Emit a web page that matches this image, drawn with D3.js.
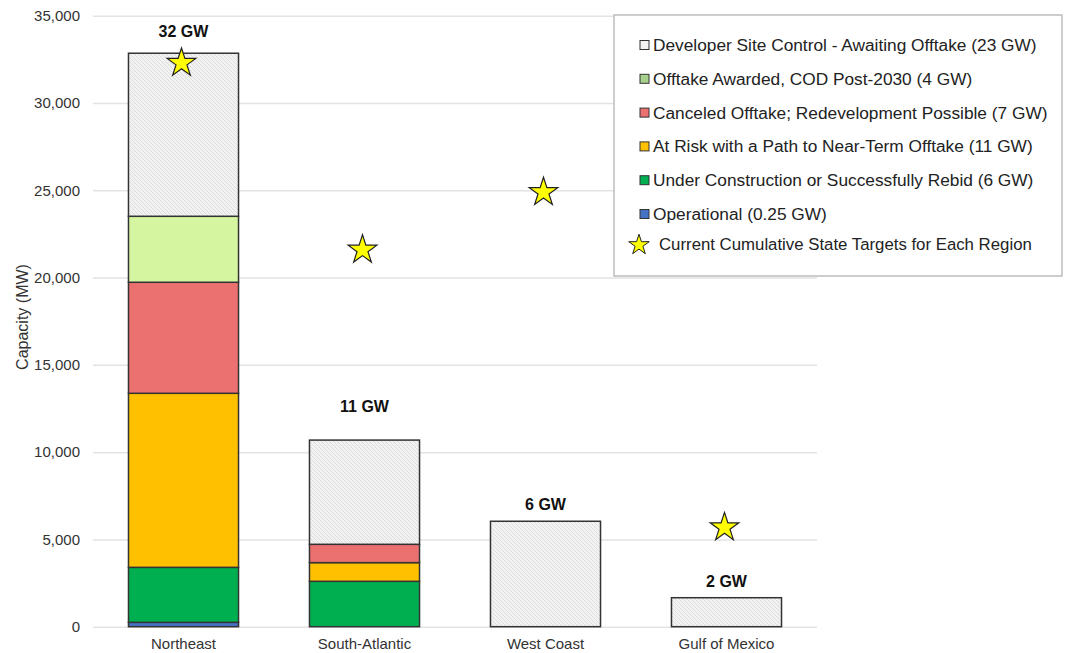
<!DOCTYPE html>
<html>
<head>
<meta charset="utf-8">
<script src="https://cdn.jsdelivr.net/npm/d3@7"></script>
<style>
  body { margin: 0; background: #fff; }
  svg { font-family: "Liberation Sans", Arial, sans-serif; }
</style>
</head>
<body>
<svg width="1066" height="653"></svg>
<script>
// regions on the x axis
const regions = ["Northeast", "South-Atlantic", "West Coast", "Gulf of Mexico"];

// capacity (MW) per status, stacked bottom to top
const operational = [250, 0, 0, 0];
const underConstruction = [3150, 2600, 0, 0];
const atRisk = [9970, 1070, 0, 0];
const canceled = [6360, 1050, 0, 0];
const offtakeAwarded = [3780, 0, 0, 0];
const siteControl = [9340, 5970, 6040, 1660];

const stateTargets = [32400, 21700, 25000, 5800];
const totalLabels = ["32 GW", "11 GW", "6 GW", "2 GW"];
const labelAt = [33800, 12300, 6700, 2300];

const seriesKeys = ["op", "uc", "ar", "co", "oa", "ds"];
const seriesNames = {
    op: "Operational (0.25 GW)",
    uc: "Under Construction or Successfully Rebid (6 GW)",
    ar: "At Risk with a Path to Near-Term Offtake (11 GW)",
    co: "Canceled Offtake; Redevelopment Possible (7 GW)",
    oa: "Offtake Awarded, COD Post-2030 (4 GW)",
    ds: "Developer Site Control - Awaiting Offtake (23 GW)"
};
const yTicks = [0, 5000, 10000, 15000, 20000, 25000, 30000, 35000];

let colors = { op: "#4472c4", uc: "#00b050", ar: "#ffc000", co: "#eb7070", oa: "#d5f5a0", ds: "url(#hatch)" };

let rows = regions.map((r, i) => ({
    region: r, op: operational[i], uc: underConstruction[i], ar: atRisk[i],
    co: canceled[i], oa: offtakeAwarded[i], ds: siteControl[i]
}));

let svg = d3.select("svg");
svg.append("rect").attr("width", 1066).attr("height", 653).attr("fill", "#fff");

// hatch pattern for the site-control segments
let pat = svg.append("defs").append("pattern")
    .attr("id", "hatch")
    .attr("patternUnits", "userSpaceOnUse")
    .attr("width", 4).attr("height", 4);
pat.append("rect").attr("width", 4).attr("height", 4).attr("fill", "#f2f2f2");
pat.append("path")
    .attr("d", "M0,0 L4,4 M-1,3 L1,5 M3,-1 L5,1")
    .attr("stroke", "#dadada").attr("stroke-width", 0.9);

let xScale = d3.scaleBand()
    .domain(regions)
    .range([93, 817])
    .paddingInner(0.392)
    .paddingOuter(0.196);
let yScale = d3.scaleLinear()
    .domain([0, 35000])
    .range([626.7, 15.7]);

// gridlines + y labels
let yAxis = svg.append("g")
    .attr("transform", "translate(93,0)")
    .call(d3.axisLeft(yScale).tickValues(yTicks).tickFormat(d3.format(","))
        .tickSize(-724).tickPadding(13));
yAxis.select(".domain").remove();
yAxis.selectAll("line").attr("stroke", "#e3e3e3").attr("stroke-width", 1.5);
yAxis.selectAll("text").attr("font-size", 15).attr("fill", "#333")
    .attr("font-family", "Liberation Sans, Arial, sans-serif");

let xAxis = svg.append("g")
    .attr("transform", "translate(0,626.7)")
    .call(d3.axisBottom(xScale).tickSize(0).tickPadding(12));
xAxis.select(".domain").remove();
xAxis.selectAll("text").attr("font-size", 15).attr("fill", "#333")
    .attr("font-family", "Liberation Sans, Arial, sans-serif");

svg.append("text")
    .attr("transform", "translate(28,317) rotate(-90)")
    .attr("text-anchor", "middle")
    .attr("font-size", 16)
    .attr("fill", "#333")
    .text("Capacity (MW)");

// stacked bars
let stacked = d3.stack().keys(seriesKeys)(rows);
svg.append("g").selectAll("g")
    .data(stacked)
    .enter()
    .append("g")
    .attr("fill", d => colors[d.key])
    .selectAll("rect")
    .data(d => d.filter(s => s[1] - s[0] > 0))
    .enter()
    .append("rect")
    .attr("x", d => xScale(d.data.region))
    .attr("width", xScale.bandwidth())
    .attr("y", d => yScale(d[1]))
    .attr("height", d => yScale(d[0]) - yScale(d[1]))
    .attr("stroke", "#333")
    .attr("stroke-width", 1.5);

// total labels
svg.append("g").selectAll("text")
    .data(regions)
    .enter()
    .append("text")
    .attr("x", d => xScale(d) + xScale.bandwidth() / 2)
    .attr("y", (d, i) => yScale(labelAt[i]))
    .attr("text-anchor", "middle")
    .attr("font-size", 16)
    .attr("font-weight", "bold")
    .attr("fill", "#111")
    .text((d, i) => totalLabels[i]);

// state targets
let star = d3.symbol().type(d3.symbolStar).size(255);
svg.append("g").selectAll("path")
    .data(regions)
    .enter()
    .append("path")
    .attr("d", star)
    .attr("transform", (d, i) => `translate(${xScale(d) + xScale.bandwidth() / 2 - 2},${yScale(stateTargets[i]) + 2})`)
    .attr("fill", "#ffff00")
    .attr("stroke", "#222")
    .attr("stroke-width", 1.2);

// legend
let legend = svg.append("g");
legend.append("rect")
    .attr("x", 614).attr("y", 15).attr("width", 448).attr("height", 261)
    .attr("fill", "#fff").attr("stroke", "#bdbdbd").attr("stroke-width", 1.5);

let legendKeys = seriesKeys.slice().reverse();
let swatchFill = { op: "#4472c4", uc: "#00b050", ar: "#ffc000", co: "#eb7070", oa: "#a9d18e", ds: "#f3f3f3" };
legendKeys.forEach((k, i) => {
    let cy = 45 + i * 33.8;
    legend.append("rect")
        .attr("x", 640).attr("y", cy - 4.5).attr("width", 9).attr("height", 9)
        .attr("fill", swatchFill[k]).attr("stroke", "#333").attr("stroke-width", 1);
    legend.append("text")
        .attr("x", 653).attr("y", cy + 6)
        .attr("font-size", 17.3).attr("fill", "#222")
        .text(seriesNames[k]);
});
legend.append("path")
    .attr("d", d3.symbol().type(d3.symbolStar).size(130))
    .attr("transform", "translate(639,245)")
    .attr("fill", "#ffff00").attr("stroke", "#222").attr("stroke-width", 1);
legend.append("text")
    .attr("x", 659).attr("y", 250)
    .attr("font-size", 16.8).attr("fill", "#222")
    .text("Current Cumulative State Targets for Each Region");
</script>
</body>
</html>
